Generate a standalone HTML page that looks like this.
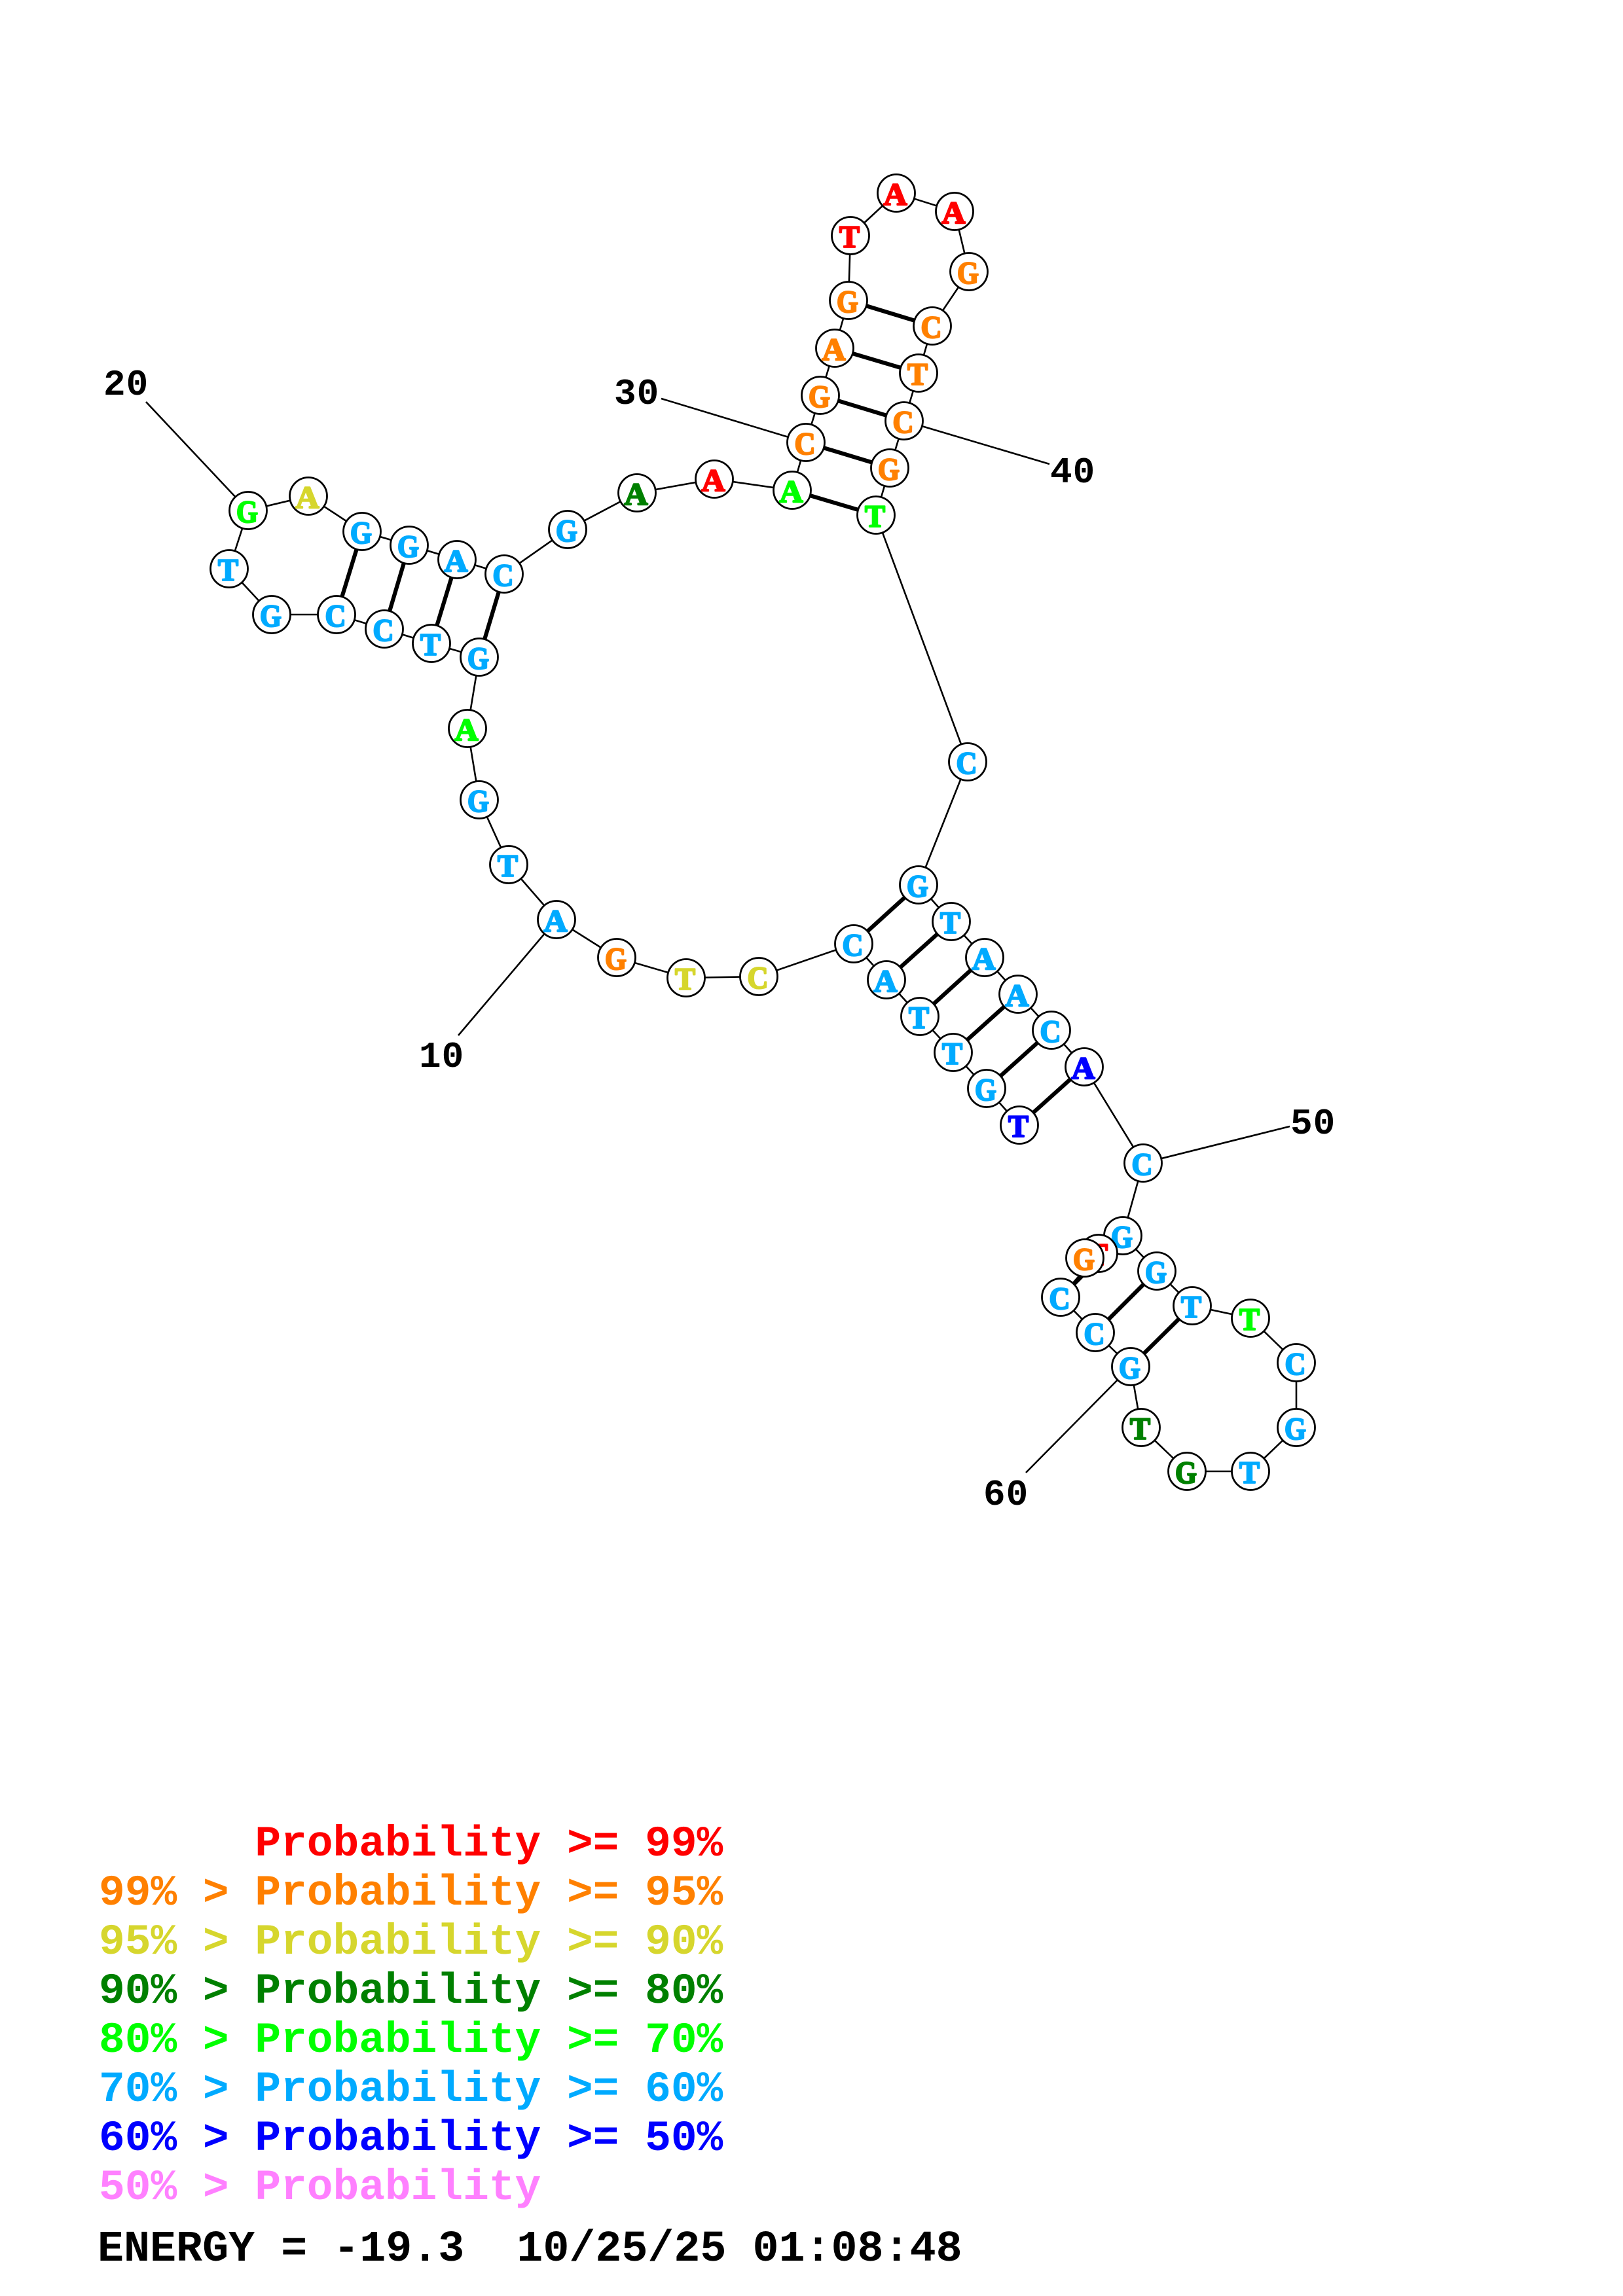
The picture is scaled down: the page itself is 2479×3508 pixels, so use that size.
<!DOCTYPE html>
<html><head><meta charset="utf-8"><title>RNA structure</title>
<style>
html,body{margin:0;padding:0;background:#fff}
svg{display:block}
circle{fill:#fff;stroke:#000;stroke-width:2.8}
.n text{font-family:"Liberation Serif",serif;font-weight:bold;font-size:48px;text-anchor:middle;stroke-width:2.4;stroke-linejoin:round}
.r{fill:#f00;stroke:#f00}.o{fill:#ff8000;stroke:#ff8000}.y{fill:#d6d62d;stroke:#d6d62d}.d{fill:#008000;stroke:#008000}.g{fill:#0f0;stroke:#0f0}.b{fill:#0af;stroke:#0af}.u{fill:#00f;stroke:#00f}.p{fill:#ff80ff;stroke:#ff80ff}
.num{font-family:"Liberation Mono",monospace;font-weight:bold;font-size:56px;fill:#000;letter-spacing:1px}
.leg{font-family:"Liberation Mono",monospace;font-weight:bold;font-size:66.2px;white-space:pre;stroke:none}
.en{font-family:"Liberation Mono",monospace;font-weight:bold;font-size:66.7px;white-space:pre;fill:#000}
</style></head><body>
<svg xmlns="http://www.w3.org/2000/svg" width="2479" height="3508" viewBox="0 0 2479 3508">
<rect width="2479" height="3508" fill="#fff"/>
<path fill="none" stroke="#000" stroke-width="2.6" d="M1557 1719L1507 1663L1456 1608L1405 1553L1354 1497L1304 1442L1159 1492L1048 1494L942 1463L850 1405L777 1321L732 1222L714 1113L732 1004L659 983L587 961L514 939L415 939L350 869L379 780L471 758L553 812L625 833L698 855L770 877L867 809L973 753L1091 732L1210 749L1231 676L1253 604L1275 532L1296 459L1299 360L1369 295L1458 323L1480 415L1424 498L1403 570L1381 643L1359 715L1338 787L1478 1164L1403 1352L1453 1408L1504 1463L1555 1519L1606 1574L1656 1630L1746 1777L1715 1888L1767 1942L1821 1995L1910 2014L1980 2082L1980 2181L1910 2248L1813 2248L1743 2181L1727 2088L1673 2036L1620 1982L1678 1915L1657 1922"/>
<path fill="none" stroke="#000" stroke-width="2.6" d="M850 1405L700 1582M379 780L223 614M1231 676L1010 609M1381 643L1603 709M1746 1777L1970 1721M1727 2088L1567 2250"/>
<path fill="none" stroke="#000" stroke-width="6.2" d="M553 812L514 939M625 833L587 961M698 855L659 983M770 877L732 1004M1210 749L1338 787M1231 676L1360 715M1253 604L1381 643M1275 532L1403 570M1296 459L1424 498M1304 1442L1403 1352M1354 1497L1453 1408M1405 1553L1504 1463M1456 1608L1555 1519M1507 1663L1606 1574M1557 1719L1656 1630M1620 1982L1715 1888M1673 2036L1767 1942M1727 2088L1821 1995"/>
<g class="n">
<circle cx="1557" cy="1719" r="28.5"/><text x="1555.5" y="1737" textLength="31" lengthAdjust="spacingAndGlyphs" class="u">T</text>
<circle cx="1507" cy="1663" r="28.5"/><text x="1505.5" y="1681" textLength="33" lengthAdjust="spacingAndGlyphs" class="b">G</text>
<circle cx="1456" cy="1608" r="28.5"/><text x="1454.5" y="1626" textLength="31" lengthAdjust="spacingAndGlyphs" class="b">T</text>
<circle cx="1405" cy="1553" r="28.5"/><text x="1403.5" y="1571" textLength="31" lengthAdjust="spacingAndGlyphs" class="b">T</text>
<circle cx="1354" cy="1497" r="28.5"/><text x="1352.5" y="1515" textLength="36" lengthAdjust="spacingAndGlyphs" class="b">A</text>
<circle cx="1304" cy="1442" r="28.5"/><text x="1302.5" y="1460" textLength="32" lengthAdjust="spacingAndGlyphs" class="b">C</text>
<circle cx="1159" cy="1492" r="28.5"/><text x="1157.5" y="1510" textLength="32" lengthAdjust="spacingAndGlyphs" class="y">C</text>
<circle cx="1048" cy="1494" r="28.5"/><text x="1046.5" y="1512" textLength="31" lengthAdjust="spacingAndGlyphs" class="y">T</text>
<circle cx="942" cy="1463" r="28.5"/><text x="940.5" y="1481" textLength="33" lengthAdjust="spacingAndGlyphs" class="o">G</text>
<circle cx="850" cy="1405" r="28.5"/><text x="848.5" y="1423" textLength="36" lengthAdjust="spacingAndGlyphs" class="b">A</text>
<circle cx="777" cy="1321" r="28.5"/><text x="775.5" y="1339" textLength="31" lengthAdjust="spacingAndGlyphs" class="b">T</text>
<circle cx="732" cy="1222" r="28.5"/><text x="730.5" y="1240" textLength="33" lengthAdjust="spacingAndGlyphs" class="b">G</text>
<circle cx="714" cy="1113" r="28.5"/><text x="712.5" y="1131" textLength="36" lengthAdjust="spacingAndGlyphs" class="g">A</text>
<circle cx="732" cy="1004" r="28.5"/><text x="730.5" y="1022" textLength="33" lengthAdjust="spacingAndGlyphs" class="b">G</text>
<circle cx="659" cy="983" r="28.5"/><text x="657.5" y="1001" textLength="31" lengthAdjust="spacingAndGlyphs" class="b">T</text>
<circle cx="587" cy="961" r="28.5"/><text x="585.5" y="979" textLength="32" lengthAdjust="spacingAndGlyphs" class="b">C</text>
<circle cx="514" cy="939" r="28.5"/><text x="512.5" y="957" textLength="32" lengthAdjust="spacingAndGlyphs" class="b">C</text>
<circle cx="415" cy="939" r="28.5"/><text x="413.5" y="957" textLength="33" lengthAdjust="spacingAndGlyphs" class="b">G</text>
<circle cx="350" cy="869" r="28.5"/><text x="348.5" y="887" textLength="31" lengthAdjust="spacingAndGlyphs" class="b">T</text>
<circle cx="379" cy="780" r="28.5"/><text x="377.5" y="798" textLength="33" lengthAdjust="spacingAndGlyphs" class="g">G</text>
<circle cx="471" cy="758" r="28.5"/><text x="469.5" y="776" textLength="36" lengthAdjust="spacingAndGlyphs" class="y">A</text>
<circle cx="553" cy="812" r="28.5"/><text x="551.5" y="830" textLength="33" lengthAdjust="spacingAndGlyphs" class="b">G</text>
<circle cx="625" cy="833" r="28.5"/><text x="623.5" y="851" textLength="33" lengthAdjust="spacingAndGlyphs" class="b">G</text>
<circle cx="698" cy="855" r="28.5"/><text x="696.5" y="873" textLength="36" lengthAdjust="spacingAndGlyphs" class="b">A</text>
<circle cx="770" cy="877" r="28.5"/><text x="768.5" y="895" textLength="32" lengthAdjust="spacingAndGlyphs" class="b">C</text>
<circle cx="867" cy="809" r="28.5"/><text x="865.5" y="827" textLength="33" lengthAdjust="spacingAndGlyphs" class="b">G</text>
<circle cx="973" cy="753" r="28.5"/><text x="971.5" y="771" textLength="36" lengthAdjust="spacingAndGlyphs" class="d">A</text>
<circle cx="1091" cy="732" r="28.5"/><text x="1089.5" y="750" textLength="36" lengthAdjust="spacingAndGlyphs" class="r">A</text>
<circle cx="1210" cy="749" r="28.5"/><text x="1208.5" y="767" textLength="36" lengthAdjust="spacingAndGlyphs" class="g">A</text>
<circle cx="1231" cy="676" r="28.5"/><text x="1229.5" y="694" textLength="32" lengthAdjust="spacingAndGlyphs" class="o">C</text>
<circle cx="1253" cy="604" r="28.5"/><text x="1251.5" y="622" textLength="33" lengthAdjust="spacingAndGlyphs" class="o">G</text>
<circle cx="1275" cy="532" r="28.5"/><text x="1273.5" y="550" textLength="36" lengthAdjust="spacingAndGlyphs" class="o">A</text>
<circle cx="1296" cy="459" r="28.5"/><text x="1294.5" y="477" textLength="33" lengthAdjust="spacingAndGlyphs" class="o">G</text>
<circle cx="1299" cy="360" r="28.5"/><text x="1297.5" y="378" textLength="31" lengthAdjust="spacingAndGlyphs" class="r">T</text>
<circle cx="1369" cy="295" r="28.5"/><text x="1367.5" y="313" textLength="36" lengthAdjust="spacingAndGlyphs" class="r">A</text>
<circle cx="1458" cy="323" r="28.5"/><text x="1456.5" y="341" textLength="36" lengthAdjust="spacingAndGlyphs" class="r">A</text>
<circle cx="1480" cy="415" r="28.5"/><text x="1478.5" y="433" textLength="33" lengthAdjust="spacingAndGlyphs" class="o">G</text>
<circle cx="1424" cy="498" r="28.5"/><text x="1422.5" y="516" textLength="32" lengthAdjust="spacingAndGlyphs" class="o">C</text>
<circle cx="1403" cy="570" r="28.5"/><text x="1401.5" y="588" textLength="31" lengthAdjust="spacingAndGlyphs" class="o">T</text>
<circle cx="1381" cy="643" r="28.5"/><text x="1379.5" y="661" textLength="32" lengthAdjust="spacingAndGlyphs" class="o">C</text>
<circle cx="1359" cy="715" r="28.5"/><text x="1357.5" y="733" textLength="33" lengthAdjust="spacingAndGlyphs" class="o">G</text>
<circle cx="1338" cy="787" r="28.5"/><text x="1336.5" y="805" textLength="31" lengthAdjust="spacingAndGlyphs" class="g">T</text>
<circle cx="1478" cy="1164" r="28.5"/><text x="1476.5" y="1182" textLength="32" lengthAdjust="spacingAndGlyphs" class="b">C</text>
<circle cx="1403" cy="1352" r="28.5"/><text x="1401.5" y="1370" textLength="33" lengthAdjust="spacingAndGlyphs" class="b">G</text>
<circle cx="1453" cy="1408" r="28.5"/><text x="1451.5" y="1426" textLength="31" lengthAdjust="spacingAndGlyphs" class="b">T</text>
<circle cx="1504" cy="1463" r="28.5"/><text x="1502.5" y="1481" textLength="36" lengthAdjust="spacingAndGlyphs" class="b">A</text>
<circle cx="1555" cy="1519" r="28.5"/><text x="1553.5" y="1537" textLength="36" lengthAdjust="spacingAndGlyphs" class="b">A</text>
<circle cx="1606" cy="1574" r="28.5"/><text x="1604.5" y="1592" textLength="32" lengthAdjust="spacingAndGlyphs" class="b">C</text>
<circle cx="1656" cy="1630" r="28.5"/><text x="1654.5" y="1648" textLength="36" lengthAdjust="spacingAndGlyphs" class="u">A</text>
<circle cx="1746" cy="1777" r="28.5"/><text x="1744.5" y="1795" textLength="32" lengthAdjust="spacingAndGlyphs" class="b">C</text>
<circle cx="1715" cy="1888" r="28.5"/><text x="1713.5" y="1906" textLength="33" lengthAdjust="spacingAndGlyphs" class="b">G</text>
<circle cx="1767" cy="1942" r="28.5"/><text x="1765.5" y="1960" textLength="33" lengthAdjust="spacingAndGlyphs" class="b">G</text>
<circle cx="1821" cy="1995" r="28.5"/><text x="1819.5" y="2013" textLength="31" lengthAdjust="spacingAndGlyphs" class="b">T</text>
<circle cx="1910" cy="2014" r="28.5"/><text x="1908.5" y="2032" textLength="31" lengthAdjust="spacingAndGlyphs" class="g">T</text>
<circle cx="1980" cy="2082" r="28.5"/><text x="1978.5" y="2100" textLength="32" lengthAdjust="spacingAndGlyphs" class="b">C</text>
<circle cx="1980" cy="2181" r="28.5"/><text x="1978.5" y="2199" textLength="33" lengthAdjust="spacingAndGlyphs" class="b">G</text>
<circle cx="1910" cy="2248" r="28.5"/><text x="1908.5" y="2266" textLength="31" lengthAdjust="spacingAndGlyphs" class="b">T</text>
<circle cx="1813" cy="2248" r="28.5"/><text x="1811.5" y="2266" textLength="33" lengthAdjust="spacingAndGlyphs" class="d">G</text>
<circle cx="1743" cy="2181" r="28.5"/><text x="1741.5" y="2199" textLength="31" lengthAdjust="spacingAndGlyphs" class="d">T</text>
<circle cx="1727" cy="2088" r="28.5"/><text x="1725.5" y="2106" textLength="33" lengthAdjust="spacingAndGlyphs" class="b">G</text>
<circle cx="1673" cy="2036" r="28.5"/><text x="1671.5" y="2054" textLength="32" lengthAdjust="spacingAndGlyphs" class="b">C</text>
<circle cx="1620" cy="1982" r="28.5"/><text x="1618.5" y="2000" textLength="32" lengthAdjust="spacingAndGlyphs" class="b">C</text>
<circle cx="1678" cy="1915" r="28.5"/><text x="1676.5" y="1933" textLength="31" lengthAdjust="spacingAndGlyphs" class="r">T</text>
<circle cx="1657" cy="1922" r="28.5"/><text x="1655.5" y="1940" textLength="33" lengthAdjust="spacingAndGlyphs" class="o">G</text>
</g>
<text class="num" x="158" y="603">20</text>
<text class="num" x="938" y="617">30</text>
<text class="num" x="1604" y="737">40</text>
<text class="num" x="1971" y="1732">50</text>
<text class="num" x="640" y="1630">10</text>
<text class="num" x="1502" y="2299">60</text>
<text class="leg r" x="151" y="2835">      Probability &gt;= 99%</text>
<text class="leg o" x="151" y="2910">99% &gt; Probability &gt;= 95%</text>
<text class="leg y" x="151" y="2985">95% &gt; Probability &gt;= 90%</text>
<text class="leg d" x="151" y="3060">90% &gt; Probability &gt;= 80%</text>
<text class="leg g" x="151" y="3135">80% &gt; Probability &gt;= 70%</text>
<text class="leg b" x="151" y="3210">70% &gt; Probability &gt;= 60%</text>
<text class="leg u" x="151" y="3285">60% &gt; Probability &gt;= 50%</text>
<text class="leg p" x="151" y="3360">50% &gt; Probability</text>
<text class="en" x="149" y="3454">ENERGY = -19.3  10/25/25 01:08:48</text>
</svg>
</body></html>
